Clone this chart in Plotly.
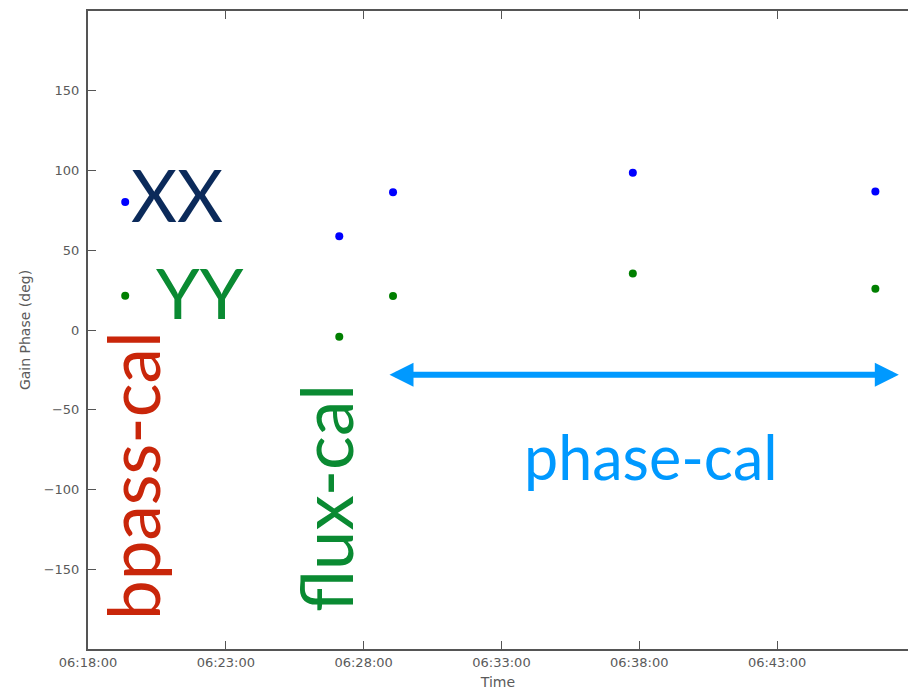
import plotly.graph_objects as go

# ---- data ----
day = "2012-01-01 "
times = ["06:19:21", "06:27:07", "06:29:04", "06:37:46", "06:46:34"]
xx_phase = [80.2, 58.8, 86.3, 98.6, 86.9]
yy_phase = [21.4, -4.2, 21.3, 35.4, 25.8]
x_range = ["06:18:00", "06:47:45"]
y_range = [-200, 200]
y_ticks = [-150, -100, -50, 0, 50, 100, 150]
arrow_span = ["06:28:53", "06:47:25"]
arrow_level = -28

t = [day + s for s in times]

fig = go.Figure()
fig.add_trace(go.Scatter(x=t, y=xx_phase, mode="markers", name="XX",
                         marker=dict(color="#0000ff", size=8, line=dict(width=0))))
fig.add_trace(go.Scatter(x=t, y=yy_phase, mode="markers", name="YY",
                         marker=dict(color="#007f00", size=8, line=dict(width=0))))

W, H = 908, 693
L, R, T, B = 88, 0, 11, 44
pw, ph = W - L - R, H - T - B


def px(xp):
    return (xp - L) / pw


def py(yp):
    return (H - B - yp) / ph


font_big = "Lato"
ann = []
ann.append(dict(text="XX", x=px(177), y=py(194), xref="paper", yref="paper",
                showarrow=False, xanchor="center", yanchor="middle",
                font=dict(family=font_big, size=71, color="#0b2a5a")))
ann.append(dict(text="YY", x=px(200), y=py(292), xref="paper", yref="paper",
                showarrow=False, xanchor="center", yanchor="middle",
                font=dict(family=font_big, size=70, color="#0a8a32")))
ann.append(dict(text="bpass-cal", x=px(132), y=py(476), xref="paper", yref="paper",
                showarrow=False, xanchor="center", yanchor="middle", textangle=-90,
                font=dict(family=font_big, size=71, color="#c9260a")))
ann.append(dict(text="flux-cal", x=px(325), y=py(498), xref="paper", yref="paper",
                showarrow=False, xanchor="center", yanchor="middle", textangle=-90,
                font=dict(family=font_big, size=71, color="#0a8a32")))
ann.append(dict(text="phase-cal", x=px(651), y=py(456), xref="paper", yref="paper",
                showarrow=False, xanchor="center", yanchor="middle",
                font=dict(family=font_big, size=61, color="#0099ff")))
ann.append(dict(text="", x=day + arrow_span[1], y=arrow_level,
                ax=day + arrow_span[0], ay=arrow_level,
                xref="x", yref="y", axref="x", ayref="y",
                showarrow=True, arrowside="end+start",
                arrowhead=2, startarrowhead=2, arrowsize=0.8, startarrowsize=0.8,
                arrowwidth=6, arrowcolor="#0099ff", standoff=0, startstandoff=0))

axis_common = dict(showline=True, linecolor="#555", linewidth=2,
                   ticks="inside", ticklen=8, tickwidth=1, tickcolor="#555",
                   showgrid=False, zeroline=False,
                   tickfont=dict(family="DejaVu Sans", size=13, color="#5a5a5a"))

fig.update_layout(
    width=W, height=H,
    margin=dict(l=L, r=R, t=T, b=B, pad=0),
    paper_bgcolor="white", plot_bgcolor="white",
    showlegend=False,
    annotations=ann,
    xaxis=dict(range=[day + x_range[0], day + x_range[1]], type="date",
               tick0=day + x_range[0], dtick=300000, tickformat="%H:%M:%S",
               mirror="ticks",
               title=dict(text="Time", standoff=9,
                          font=dict(family="DejaVu Sans", size=14, color="#5a5a5a")),
               **axis_common),
    yaxis=dict(range=y_range, tickvals=y_ticks, mirror=False,
               ticklabelstandoff=4,
               title=dict(text="Gain Phase (deg)", standoff=10,
                          font=dict(family="DejaVu Sans", size=14, color="#5a5a5a")),
               **axis_common),
)

fig.write_html("out.html")
